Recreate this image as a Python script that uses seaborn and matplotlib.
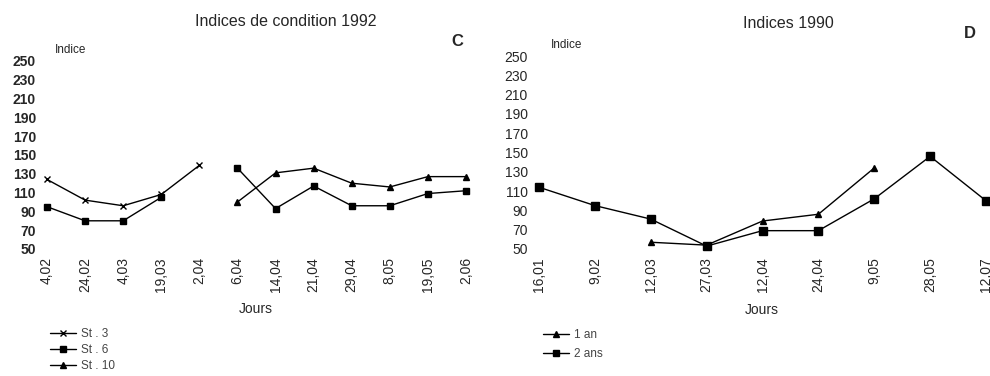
import numpy as np
import pandas as pd
import seaborn as sns
import matplotlib.pyplot as plt
from matplotlib.lines import Line2D

# panneau C - indices de condition 1992
jours_c = ['4,02', '24,02', '4,03', '19,03', '2,04', '6,04', '14,04',
           '21,04', '29,04', '8,05', '19,05', '2,06']
st3 = [124, 102, 96, 108, 139, np.nan, np.nan, np.nan, np.nan, np.nan, np.nan, np.nan]
st6 = [95, 80, 80, 105, np.nan, 136, 93, 117, 96, 96, 109, 112]
st10 = [np.nan, np.nan, np.nan, np.nan, np.nan, 100, 131, 136, 120, 116, 127, 127]

# panneau D - indices 1990
jours_d = ['16,01', '9,02', '12,03', '27,03', '12,04', '24,04', '9,05', '28,05', '12,07']
un_an = [np.nan, np.nan, 57, 54, 79, 86, 134, np.nan, np.nan]
deux_ans = [114, 95, 81, 53, 69, 69, 102, 146, 100]

yticks = list(range(50, 251, 20))

sns.set_theme(style='white')
plt.rcParams['font.family'] = ['Liberation Sans', 'DejaVu Sans']

fig = plt.figure(figsize=(9.9, 3.76), dpi=100)
ax1 = fig.add_axes([47 / 990, 1 - 249 / 376, 419 / 990, 188 / 376])
ax2 = fig.add_axes([539 / 990, 1 - 249 / 376, 447 / 990, 193 / 376])


def trace(ax, vals, marker, ms):
    # coupe la serie aux valeurs manquantes
    s = pd.Series(vals, dtype=float)
    seg = s.isna().cumsum()
    df = pd.DataFrame({'x': np.arange(len(s)), 'y': s, 'seg': seg}).dropna()
    for _, g in df.groupby('seg'):
        sns.lineplot(data=g, x='x', y='y', ax=ax, color='black', lw=1,
                     marker=marker, markersize=ms, markeredgecolor='black',
                     markeredgewidth=1, clip_on=False)


trace(ax1, st3, 'x', 5)
trace(ax1, st6, 's', 5)
trace(ax1, st10, '^', 5)
trace(ax2, un_an, '^', 5)
trace(ax2, deux_ans, 's', 5.5)

for ax, labels in [(ax1, jours_c), (ax2, jours_d)]:
    ax.set_xlim(0, len(labels) - 1)
    ax.set_ylim(50, 250)
    ax.set_xticks(range(len(labels)))
    ax.set_xticklabels(labels, rotation=90, fontsize=10)
    ax.set_yticks(yticks)
    ax.set_yticklabels([str(v) for v in yticks], fontsize=10)
    ax.tick_params(axis='y', pad=8, length=0)
    ax.tick_params(axis='x', pad=6, length=0)
    ax.set_xlabel('')
    ax.set_ylabel('')
    ax.grid(False)
    for sp in ax.spines.values():
        sp.set_visible(False)
    ax.patch.set_alpha(0)

for lab in ax1.get_yticklabels():
    lab.set_fontweight('bold')

# textes
fig.text(286 / 990, 1 - 22 / 376, 'Indices de condition 1992', ha='center', va='center', fontsize=11.5)
fig.text(457 / 990, 1 - 41 / 376, 'C', ha='center', va='center', fontsize=12, fontweight='bold')
fig.text(71 / 990, 1 - 50 / 376, 'Indice', ha='center', va='center', fontsize=8.5)
fig.text(256 / 990, 1 - 309 / 376, 'Jours', ha='center', va='center', fontsize=10)

fig.text(788 / 990, 1 - 23 / 376, 'Indices 1990', ha='center', va='center', fontsize=11.5)
fig.text(970 / 990, 1 - 33 / 376, 'D', ha='center', va='center', fontsize=12, fontweight='bold')
fig.text(567 / 990, 1 - 45 / 376, 'Indice', ha='center', va='center', fontsize=8.5)
fig.text(762 / 990, 1 - 310 / 376, 'Jours', ha='center', va='center', fontsize=10)

# legendes
h_c = [Line2D([], [], color='black', lw=1, marker='x', ms=4),
       Line2D([], [], color='black', lw=1, marker='s', ms=4),
       Line2D([], [], color='black', lw=1, marker='^', ms=4)]
fig.legend(h_c, ['St . 3', 'St . 6', 'St . 10'], loc='upper left',
           bbox_to_anchor=(44 / 990, 1 - 322 / 376), frameon=False, fontsize=8.5,
           handlelength=2.2, handletextpad=0.4, labelspacing=0.35, borderpad=0,
           labelcolor='#444444')
h_d = [Line2D([], [], color='black', lw=1, marker='^', ms=4),
       Line2D([], [], color='black', lw=1, marker='s', ms=4)]
fig.legend(h_d, ['1 an', '2 ans'], loc='upper left',
           bbox_to_anchor=(537 / 990, 1 - 323 / 376), frameon=False, fontsize=8.5,
           handlelength=2.2, handletextpad=0.4, labelspacing=0.6, borderpad=0,
           labelcolor='#444444')

fig.savefig('out.png', dpi=100)
